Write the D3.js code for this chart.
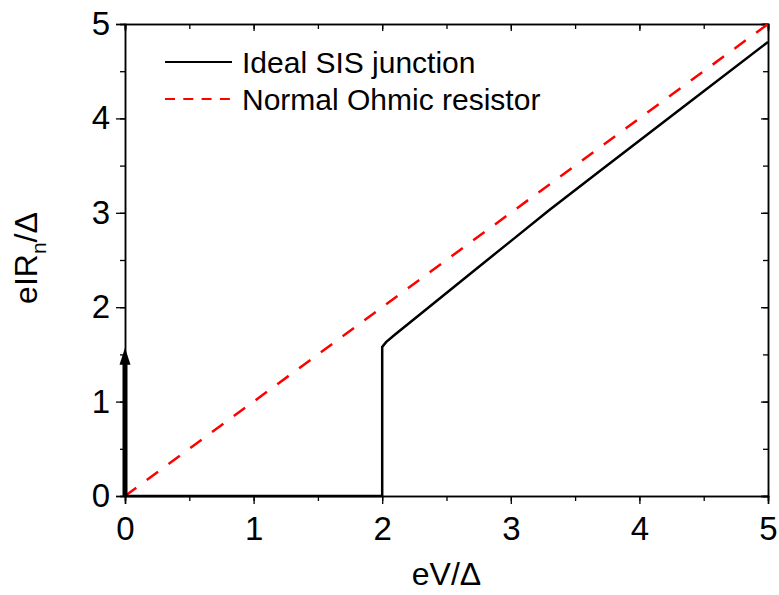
<!DOCTYPE html>
<html>
<head>
<meta charset="utf-8">
<script src="https://cdn.jsdelivr.net/npm/d3@7"></script>
<style>
  body { margin: 0; background: #fff; }
  svg { display: block; font-family: "Liberation Sans", Arial, sans-serif; }
</style>
</head>
<body>
<svg width="779" height="595"></svg>
<script>
// values
const sisV = [0, 2, 2, 2.03, 2.1, 2.3, 2.68, 3.0, 3.3, 3.69, 4.32, 5];
const sisI = [0, 0, 1.58, 1.63, 1.71, 1.93, 2.35, 2.7, 3.03, 3.44, 4.1, 4.81];
const ohmV = [0, 5];
const ohmI = [0, 5];
const arrowTop = 1.57; // delta-function supercurrent at V = 0
const xTicks = [0, 1, 2, 3, 4, 5];
const yTicks = [0, 1, 2, 3, 4, 5];
const legendLabels = ["Ideal SIS junction", "Normal Ohmic resistor"];

const margin = { top: 24, right: 11, bottom: 99, left: 125 };
const width = 779 - margin.left - margin.right;
const height = 595 - margin.top - margin.bottom;

const svg = d3.select("svg");
const g = svg.append("g").attr("transform", `translate(${margin.left},${margin.top})`);

const x = d3.scaleLinear().domain([0, 5]).range([0, width]);
const y = d3.scaleLinear().domain([0, 5]).range([height, 0]);

const minor = d3.range(0, 5.01, 0.5);

// axes: bottom/left ticks out, top/right ticks in
const drawAxis = (axis, transform, labels) => {
  const a = g.append("g").attr("transform", transform).call(axis);
  a.select(".domain").attr("stroke-width", 1.5);
  a.selectAll(".tick line").attr("stroke-width", 1.3);
  a.selectAll(".tick text").attr("font-size", 33).attr("fill", "#000");
  if (!labels) a.selectAll(".tick text").remove();
  return a;
};

drawAxis(d3.axisBottom(x).tickValues(minor).tickSize(5).tickFormat(""), `translate(0,${height})`, false);
drawAxis(d3.axisBottom(x).tickValues(xTicks).tickSize(8).tickPadding(13).tickFormat(d3.format("d")), `translate(0,${height})`, true);
drawAxis(d3.axisLeft(y).tickValues(minor).tickSize(5).tickFormat(""), "", false);
drawAxis(d3.axisLeft(y).tickValues(yTicks).tickSize(9).tickPadding(6).tickFormat(d3.format("d")), "", true);
drawAxis(d3.axisBottom(x).tickValues(minor).tickSize(5).tickFormat(""), "", false);
drawAxis(d3.axisBottom(x).tickValues(xTicks).tickSize(7).tickFormat(""), "", false);
drawAxis(d3.axisLeft(y).tickValues(minor).tickSize(5).tickFormat(""), `translate(${width},0)`, false);
drawAxis(d3.axisLeft(y).tickValues(yTicks).tickSize(7).tickFormat(""), `translate(${width},0)`, false);

// axis titles
svg.append("text")
  .attr("x", margin.left + width / 2)
  .attr("y", 585)
  .attr("text-anchor", "middle")
  .attr("font-size", 32)
  .text("eV/\u0394");

const yl = svg.append("text")
  .attr("transform", `translate(37,${margin.top + height / 2 - 2}) rotate(-90)`)
  .attr("text-anchor", "middle")
  .attr("font-size", 32);
yl.append("tspan").text("eIR");
yl.append("tspan").attr("font-size", 21).attr("dy", 9).text("n");
yl.append("tspan").attr("dy", -9).text("/\u0394");

// curves
const line = d3.line().x((d) => x(d[0])).y((d) => y(d[1]));

g.append("path")
  .datum(d3.zip(ohmV, ohmI))
  .attr("d", line)
  .attr("fill", "none")
  .attr("stroke", "#ff0000")
  .attr("stroke-width", 2.5)
  .attr("stroke-dasharray", "14,13");

g.append("path")
  .datum(d3.zip(sisV, sisI))
  .attr("d", line)
  .attr("fill", "none")
  .attr("stroke", "#000")
  .attr("stroke-width", 2.5);

// supercurrent arrow
const tipY = y(arrowTop);
g.append("line")
  .attr("x1", x(0)).attr("x2", x(0))
  .attr("y1", y(0)).attr("y2", tipY + 14)
  .attr("stroke", "#000")
  .attr("stroke-width", 5);
g.append("path")
  .attr("d", `M${x(0)},${tipY} L${x(0) - 5.5},${tipY + 17} L${x(0) + 5.5},${tipY + 17} Z`)
  .attr("fill", "#000");

// legend
const legend = svg.append("g").attr("transform", "translate(165,62)");
legendLabels.forEach((label, i) => {
  const row = legend.append("g").attr("transform", `translate(0,${i * 37})`);
  row.append("line")
    .attr("x1", 0).attr("x2", 67)
    .attr("stroke", i === 0 ? "#000" : "#ff0000")
    .attr("stroke-width", 2)
    .attr("stroke-dasharray", i === 0 ? null : "10,8.3");
  row.append("text")
    .attr("x", 77)
    .attr("y", 11)
    .attr("font-size", 30)
    .text(label);
});
</script>
</body>
</html>
